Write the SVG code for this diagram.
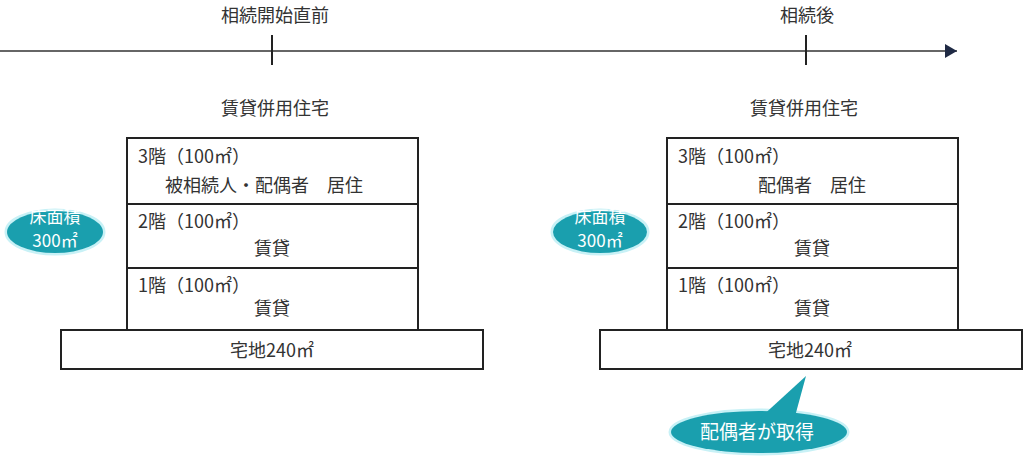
<svg xmlns="http://www.w3.org/2000/svg" width="1024" height="458" viewBox="0 0 1024 458">
<defs>
<style>
text{font-family:"Noto Sans CJK JP","Noto Sans",sans-serif;fill:#333;font-size:18px}
.c{text-anchor:middle}
.w{fill:#fff}
.e{font-size:17px}
.box{fill:#fff;stroke:#222;stroke-width:2}
.teal{fill:#1a9fae}
.glow{fill:none;stroke:#c8f1f6;stroke-width:3}
</style>
<marker id="ah" markerWidth="12" markerHeight="14" refX="12" refY="7" orient="auto" markerUnits="userSpaceOnUse">
<path d="M0,0 L12,7 L0,14 Z" fill="#1f2a44"/>
</marker>
</defs>
<rect width="1024" height="458" fill="#fff"/>
<g id="connectors">
<line x1="0" y1="51" x2="957" y2="51" stroke="#666" stroke-width="2" marker-end="url(#ah)"/>
<line x1="272" y1="35" x2="272" y2="65" stroke="#222" stroke-width="2"/>
<line x1="806" y1="35" x2="806" y2="65" stroke="#222" stroke-width="2"/>
</g>
<g id="timeline-labels">
<text class="c" x="275" y="22">相続開始直前</text>
<text class="c" x="807" y="22">相続後</text>
</g>
<g id="left-building">
<text class="c" x="275" y="115">賃貸併用住宅</text>
<rect class="box" x="127" y="138" width="291" height="66"/>
<rect class="box" x="127" y="204" width="291" height="64"/>
<rect class="box" x="127" y="268" width="291" height="62"/>
<rect class="box" x="61" y="330" width="422" height="39"/>
<text x="138" y="163">3階（100㎡）</text>
<text class="c" x="264" y="192">被相続人・配偶者　居住</text>
<text x="138" y="228">2階（100㎡）</text>
<text class="c" x="272" y="255">賃貸</text>
<text x="138" y="292">1階（100㎡）</text>
<text class="c" x="272" y="315">賃貸</text>
<text class="c" x="272" y="357">宅地240㎡</text>
</g>
<g id="left-floor-area">
<ellipse class="glow" cx="55" cy="232" rx="49" ry="22"/>
<ellipse class="teal" cx="55" cy="232" rx="48" ry="21"/>
<text class="c w e" x="55" y="223">床面積</text>
<text class="c w e" x="55" y="247">300㎡</text>
</g>
<g id="right-building">
<text class="c" x="804" y="115">賃貸併用住宅</text>
<rect class="box" x="667" y="138" width="291" height="66"/>
<rect class="box" x="667" y="204" width="291" height="64"/>
<rect class="box" x="667" y="268" width="291" height="62"/>
<rect class="box" x="600" y="330" width="422" height="39"/>
<text x="678" y="163">3階（100㎡）</text>
<text class="c" x="812" y="192">配偶者　居住</text>
<text x="678" y="228">2階（100㎡）</text>
<text class="c" x="812" y="255">賃貸</text>
<text x="678" y="292">1階（100㎡）</text>
<text class="c" x="812" y="315">賃貸</text>
<text class="c" x="810" y="357">宅地240㎡</text>
</g>
<g id="right-floor-area">
<ellipse class="glow" cx="600" cy="232" rx="48" ry="22"/>
<ellipse class="teal" cx="600" cy="232" rx="47" ry="21"/>
<text class="c w e" x="600" y="223">床面積</text>
<text class="c w e" x="600" y="247">300㎡</text>
</g>
<g id="callout">
<ellipse class="glow" cx="759" cy="432" rx="89" ry="22"/>
<ellipse class="teal" cx="759" cy="432" rx="88" ry="21"/>
<polygon class="teal" points="758,420 806,376 794,420"/>
<text class="c w" x="757" y="439" style="font-size:19px">配偶者が取得</text>
</g>
</svg>
